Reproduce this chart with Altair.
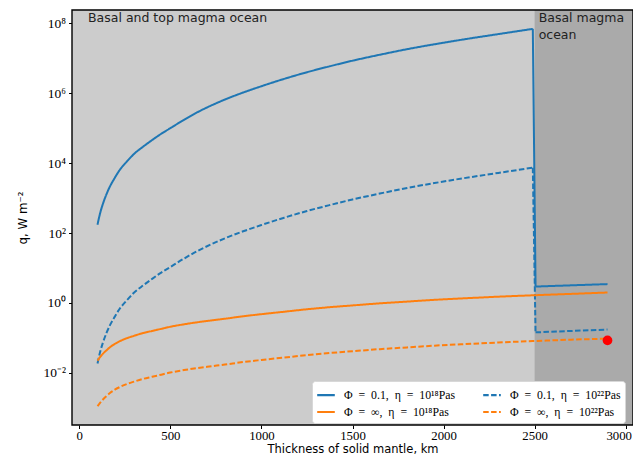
import altair as alt
import pandas as pd

# ---- data (q given as log10 of W m^-2) ----
x_grid = [100, 115, 130, 150, 170, 195, 220, 260, 300, 350, 400, 450, 500, 575, 650, 725, 800,
          900, 1000, 1125, 1250, 1375, 1500, 1650, 1800, 1950, 2100, 2300, 2490]

x_blue = x_grid + [2505, 2900]
logq_blue_18 = [2.24, 2.58, 2.84, 3.12, 3.35, 3.58, 3.79, 4.04, 4.26, 4.47, 4.66, 4.84, 5.00, 5.24,
                5.46, 5.65, 5.82, 6.02, 6.20, 6.41, 6.60, 6.77, 6.93, 7.10, 7.26, 7.40, 7.53, 7.69,
                7.84, 0.47, 0.54]
logq_blue_22 = [-1.73, -1.39, -1.13, -0.85, -0.62, -0.39, -0.18, 0.07, 0.29, 0.50, 0.69, 0.87, 1.03,
                1.27, 1.49, 1.68, 1.85, 2.05, 2.23, 2.44, 2.63, 2.80, 2.96, 3.13, 3.29, 3.43, 3.56,
                3.72, 3.87, -0.84, -0.76]

x_orange = x_grid + [2700, 2900]
logq_orange_18 = [-1.65, -1.54, -1.45, -1.35, -1.26, -1.17, -1.10, -1.01, -0.94, -0.86, -0.80, -0.74,
                  -0.68, -0.61, -0.55, -0.50, -0.45, -0.38, -0.32, -0.25, -0.18, -0.12, -0.07, -0.01,
                  0.04, 0.09, 0.13, 0.18, 0.22, 0.26, 0.30]
logq_orange_22 = [-2.95, -2.85, -2.76, -2.66, -2.57, -2.48, -2.41, -2.32, -2.25, -2.17, -2.11, -2.05,
                  -1.99, -1.92, -1.86, -1.81, -1.76, -1.69, -1.63, -1.56, -1.49, -1.43, -1.38, -1.32,
                  -1.27, -1.22, -1.18, -1.13, -1.09, -1.05, -1.02]

dot_x = [2900]
dot_logq = [-1.07]

series_names = ["Φ\u2002=\u20020.1,\u2002η\u2002=\u200210¹⁸Pas",
                "Φ\u2002=\u2002∞,\u2002η\u2002=\u200210¹⁸Pas",
                "Φ\u2002=\u20020.1,\u2002η\u2002=\u200210²²Pas",
                "Φ\u2002=\u2002∞,\u2002η\u2002=\u200210²²Pas"]
series_colors = ["#1f77b4", "#ff7f0e", "#1f77b4", "#ff7f0e"]
series_dash = [[1, 0], [1, 0], [5.5, 2.4], [5.5, 2.4]]

region_x = [2500]
region_x2 = [3040]

x_domain = [-40, 3040]
y_domain = [10 ** -3.49, 10 ** 8.38]
x_ticks = [0, 500, 1000, 1500, 2000, 2500, 3000]
y_ticks = [1e-2, 1, 1e2, 1e4, 1e6, 1e8]

labels_text = ["Basal and top magma ocean", ["Basal magma", "ocean"]]
labels_x = [48, 2522]
labels_logq = [8.31, 8.31]

# ---- tables ----
n_main = len(x_grid)
rows = []


def add(name, xs, lq, split):
    for j, (xv, lv) in enumerate(zip(xs, lq)):
        if split and j >= n_main:
            seg = 2
        else:
            seg = 0
        rows.append({"x": xv, "q": 10 ** lv, "series": name, "seg": seg, "order": j})
    if split:
        # the vertical drop at the basal/top boundary, drawn as its own straight piece
        for j in (n_main - 1, n_main):
            rows.append({"x": xs[j], "q": 10 ** lq[j], "series": name, "seg": 1, "order": j})


add(series_names[0], x_blue, logq_blue_18, True)
add(series_names[2], x_blue, logq_blue_22, True)
add(series_names[1], x_orange, logq_orange_18, False)
add(series_names[3], x_orange, logq_orange_22, False)
lines_df = pd.DataFrame(rows)
dot_df = pd.DataFrame({"x": dot_x, "q": [10 ** v for v in dot_logq]})
region_df = pd.DataFrame({"x": region_x, "x2": region_x2})
text_df = pd.DataFrame({"x": labels_x, "q": [10 ** v for v in labels_logq], "t": labels_text})

W, H = 561, 415

xscale = alt.Scale(domain=x_domain, nice=False, zero=False)
yscale = alt.Scale(type="log", domain=y_domain, nice=False)

sans = "DejaVu Sans"
serif = "Liberation Serif"

label_expr = ("datum.value < 0.1 ? '10⁻²' : datum.value < 10 ? '10⁰' : datum.value < 1000 ? '10²' : "
              "datum.value < 1e5 ? '10⁴' : datum.value < 1e7 ? '10⁶' : '10⁸'")

xaxis = alt.Axis(values=x_ticks, format="d", title="Thickness of solid mantle, km", grid=False,
                 domain=False, tickColor="black", tickSize=3.5, tickWidth=1, labelFont=serif,
                 labelFontSize=12.8, labelColor="black", labelPadding=1,
                 labelOffset={"condition": {"test": "datum.value >= 3000", "value": -7}, "value": 0},
                 titleFont=sans, titleFontSize=11.5, titleFontWeight="normal", titleColor="black",
                 titleBaseline="alphabetic", titleY=27.5)
yaxis = alt.Axis(values=y_ticks, title="q, W m⁻²", grid=False, domain=False, labelExpr=label_expr,
                 tickColor="black", tickSize=3.5, tickWidth=1, labelFont=serif, labelFontSize=13.5,
                 labelColor="black", labelPadding=3, titleFont=sans, titleFontSize=11.8,
                 titleFontWeight="normal", titleColor="black", titlePadding=14)

bg = alt.Chart(region_df).mark_rect(color="#cccccc", opacity=1).encode(
    x=alt.value(0), x2=alt.value(W), y=alt.value(0), y2=alt.value(H),
)

region = alt.Chart(region_df).mark_rect(color="#aaaaaa", opacity=1).encode(
    x=alt.X("x:Q", scale=xscale, axis=xaxis),
    x2="x2:Q",
    y=alt.value(0),
    y2=alt.value(H),
)

legend = alt.Legend(title=None, orient="none", legendX=240, legendY=371, columns=2,
                    fillColor="white", strokeColor="#d8d8d8", cornerRadius=3, padding=4,
                    columnPadding=22, rowPadding=0, labelFont=serif, labelFontSize=11.8,
                    labelColor="black", symbolType="stroke", symbolSize=310,
                    symbolStrokeWidth=2.2, labelOffset=8, labelLimit=300)

lines = alt.Chart(lines_df).mark_line(strokeWidth=2, clip=True, interpolate="monotone").encode(
    x=alt.X("x:Q", scale=xscale, axis=xaxis),
    y=alt.Y("q:Q", scale=yscale, axis=yaxis),
    color=alt.Color("series:N", scale=alt.Scale(domain=series_names, range=series_colors),
                    legend=legend),
    strokeDash=alt.StrokeDash("series:N", scale=alt.Scale(domain=series_names, range=series_dash),
                              legend=legend),
    detail="seg:N",
    order="order:Q",
)

dot = alt.Chart(dot_df).mark_circle(color="#ff0000", size=95, opacity=1).encode(
    x=alt.X("x:Q", scale=xscale),
    y=alt.Y("q:Q", scale=yscale),
)

texts = alt.Chart(text_df).mark_text(align="left", baseline="top", font=sans, fontSize=12.5,
                                     color="#222222", lineHeight=17).encode(
    x=alt.X("x:Q", scale=xscale),
    y=alt.Y("q:Q", scale=yscale),
    text="t",
)

frame = alt.Chart(region_df).mark_rect(fill="white", fillOpacity=0, stroke="black",
                                       strokeWidth=1.4).encode(
    x=alt.value(0), x2=alt.value(W), y=alt.value(0), y2=alt.value(H),
)

chart = alt.layer(bg, region, lines, dot, texts, frame).properties(
    width=W, height=H,
    padding={"left": 64, "top": 2, "right": 0, "bottom": 31},
    autosize=alt.AutoSizeParams(type="none"),
).configure_view(stroke=None)

chart.save("out.html", embed_options={"renderer": "svg", "actions": False})
